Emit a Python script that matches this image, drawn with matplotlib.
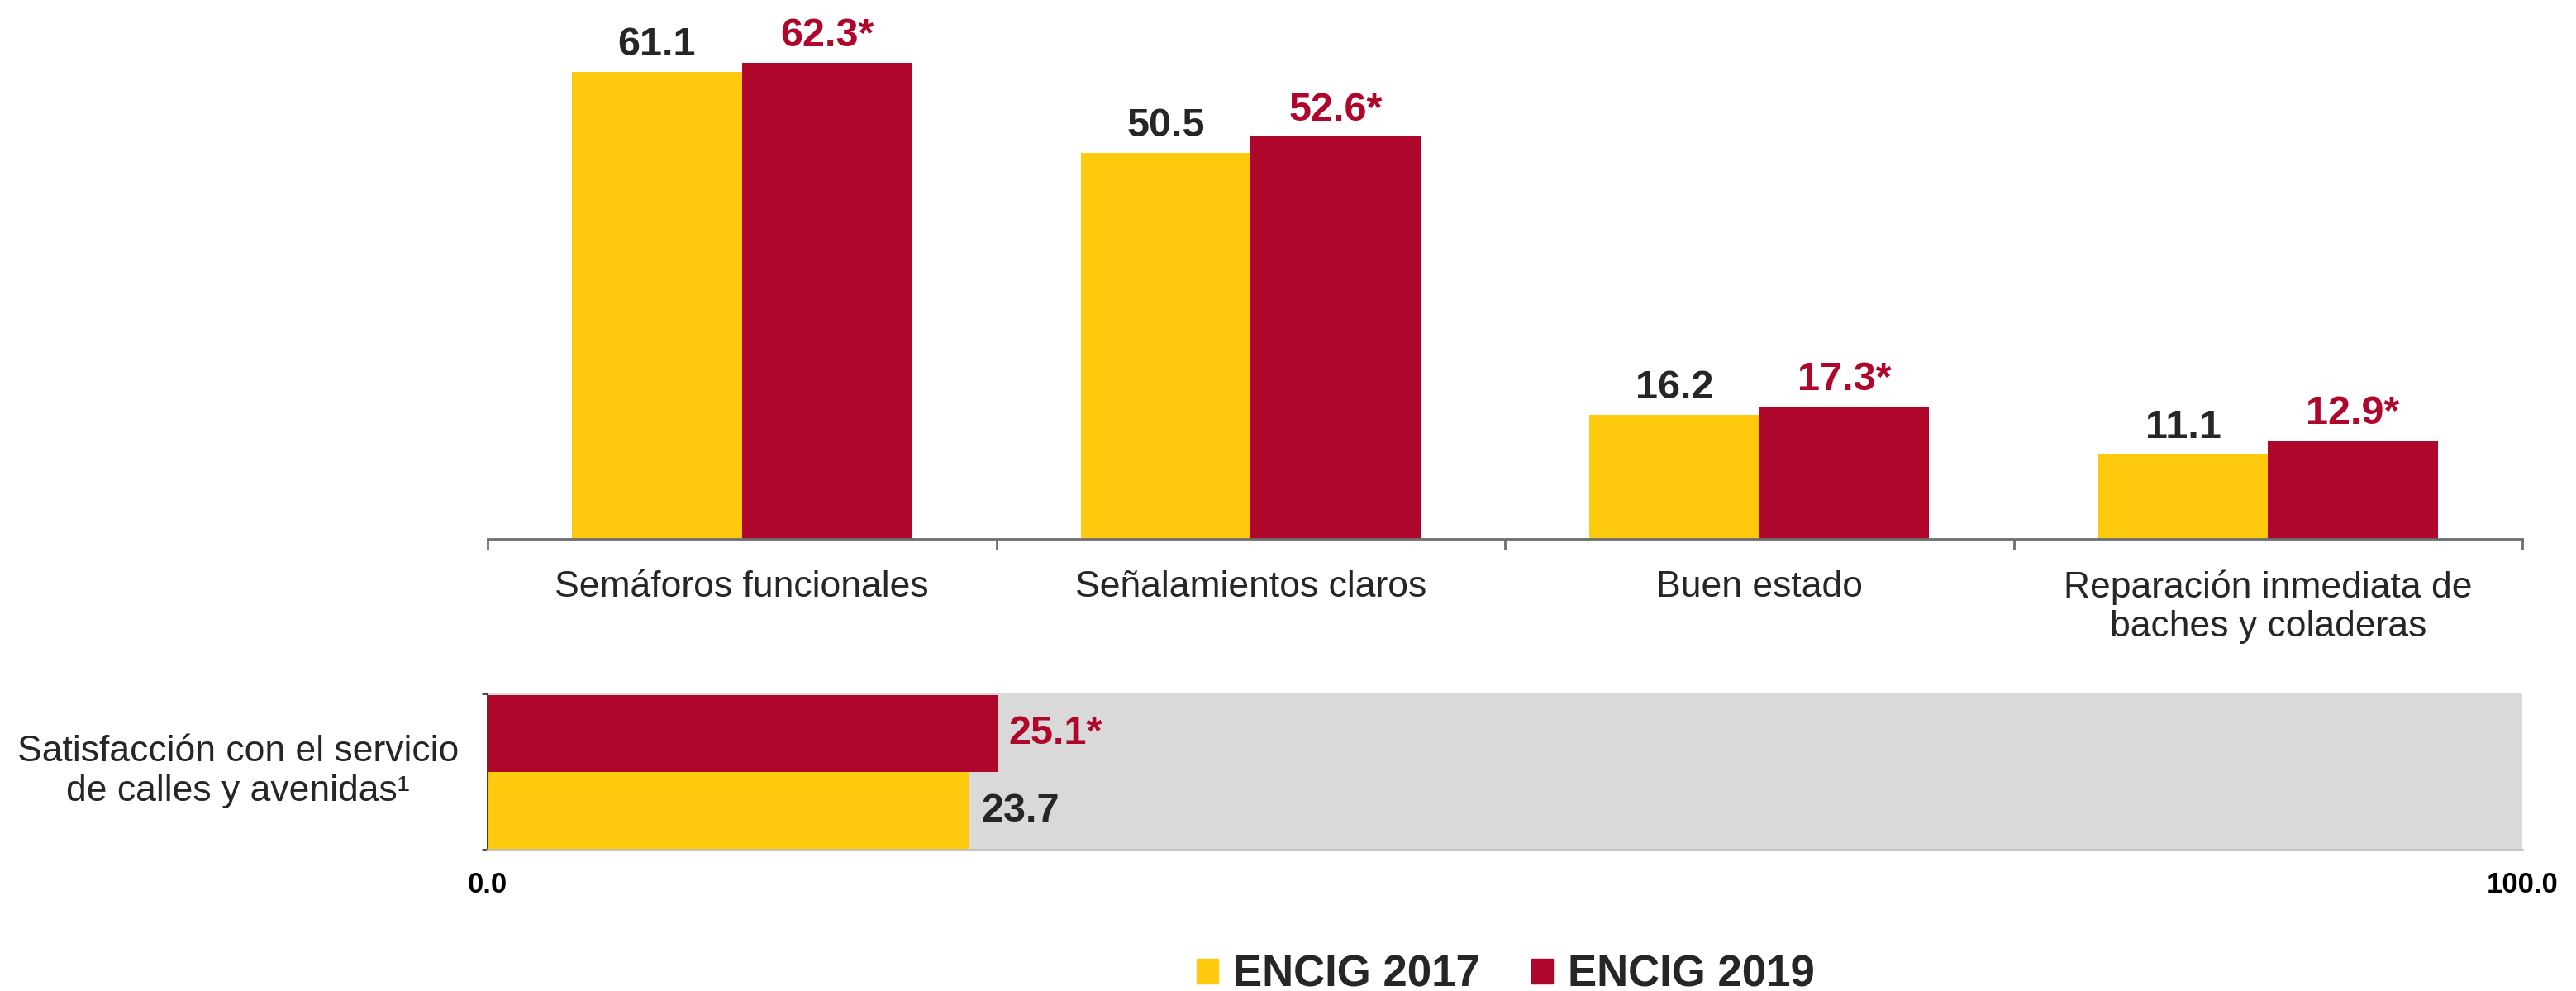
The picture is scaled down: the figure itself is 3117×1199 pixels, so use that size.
import matplotlib.pyplot as plt
import numpy as np
from matplotlib.patches import Patch

plt.rcParams["font.family"] = ["Liberation Sans", "DejaVu Sans"]

# data
categories = ["Semáforos funcionales", "Señalamientos claros", "Buen estado",
              "Reparación inmediata de\nbaches y coladeras"]
vals_2017 = [61.1, 50.5, 16.2, 11.1]
vals_2019 = [62.3, 52.6, 17.3, 12.9]
sat_label = "Satisfacción con el servicio\nde calles y avenidas¹"
sat_2017 = 23.7
sat_2019 = 25.1
series_names = ["ENCIG 2017", "ENCIG 2019"]

YELLOW = "#FFC90E"
RED = "#AF062C"
DARK = "#262626"

W, H = 3117, 1199
fig = plt.figure(figsize=(W / 100, H / 100), dpi=100)

left = 590 / W
width = (3052 - 590) / W

# ---------------------------
# Top bar chart
# ---------------------------
ax = fig.add_axes([left, (H - 652) / H, width, 647.5 / H])
x = np.arange(len(categories))
bw = 0.334
b1 = ax.bar(x - bw / 2, vals_2017, bw, color=YELLOW)
b2 = ax.bar(x + bw / 2, vals_2019, bw, color=RED)

for rect, v in zip(b1, vals_2017):
    ax.annotate(f"{v:.1f}", (rect.get_x() + rect.get_width() / 2, v),
                xytext=(0, 7), textcoords="offset points", ha="center", va="bottom",
                fontsize=35, fontweight="bold", color=DARK)
for rect, v in zip(b2, vals_2019):
    ax.annotate(f"{v:.1f}*", (rect.get_x() + rect.get_width() / 2, v),
                xytext=(0, 7), textcoords="offset points", ha="center", va="bottom",
                fontsize=35, fontweight="bold", color=RED)

ax.set_xlim(-0.5, len(categories) - 0.5)
ax.set_ylim(0, 70)
for s in ["top", "right", "left"]:
    ax.spines[s].set_visible(False)
ax.spines["bottom"].set_color("#6E6E6E")
ax.spines["bottom"].set_linewidth(2)
ax.set_yticks([])
ax.set_xticks(np.arange(len(categories) + 1) - 0.5)
ax.set_xticklabels([])
ax.tick_params(axis="x", which="major", length=9.5, width=2, color="#6E6E6E", direction="out")
ax.set_xticks(x, minor=True)
ax.set_xticklabels(categories, minor=True, fontsize=32, color=DARK)
ax.tick_params(axis="x", which="minor", length=0, pad=27)

# ---------------------------
# Bottom horizontal bars
# ---------------------------
ax2 = fig.add_axes([left, (H - 1028) / H, width, (1028 - 839) / H])
ax2.set_facecolor("#D9D9D9")
ax2.barh([0, 1], [sat_2017, sat_2019], height=1.0, color=[YELLOW, RED])
ax2.set_xlim(0, 100)
ax2.set_ylim(-0.5, 1.52)

ax2.annotate(f"{sat_2019:.1f}*", (sat_2019, 1), xytext=(9, 0), textcoords="offset points",
             ha="left", va="center", fontsize=35, fontweight="bold", color=RED)
ax2.annotate(f"{sat_2017:.1f}", (sat_2017, 0), xytext=(10, 0), textcoords="offset points",
             ha="left", va="center", fontsize=35, fontweight="bold", color=DARK)

for s in ["top", "right"]:
    ax2.spines[s].set_visible(False)
ax2.spines["bottom"].set_color("#BFBFBF")
ax2.spines["bottom"].set_linewidth(2)
ax2.spines["left"].set_color("#404040")
ax2.spines["left"].set_linewidth(1.5)
ax2.set_yticks([-0.5, 1.52])
ax2.set_yticklabels([])
ax2.tick_params(axis="y", length=5, width=2, color="#404040")
ax2.set_xticks([0, 100])
ax2.set_xticklabels(["0.0", "100.0"], fontsize=25, fontweight="bold", color="black")
ax2.tick_params(axis="x", length=0, pad=19)

ax2.text(-0.0142, 0.5, sat_label, transform=ax2.transAxes, ha="right", va="center",
         multialignment="center", fontsize=32, color=DARK)

# legend
handles = [Patch(color=YELLOW), Patch(color=RED)]
fig.legend(handles, series_names, loc="center", bbox_to_anchor=(1822 / W, 1 - 1180 / H),
           ncol=2, frameon=False, prop={"size": 38, "weight": "bold"},
           handlelength=0.5, handleheight=0.5, handletextpad=0.34, columnspacing=1.17,
           labelcolor=DARK, borderpad=0)

fig.savefig("out.png", dpi=100)
